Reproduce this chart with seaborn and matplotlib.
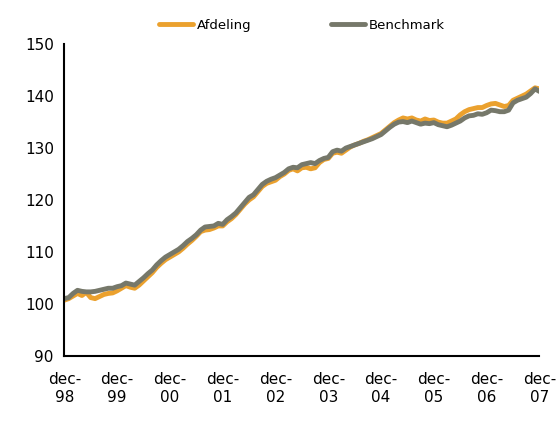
import matplotlib
matplotlib.use("Agg")
import matplotlib.pyplot as plt
import seaborn as sns
import pandas as pd
import numpy as np

benchmark = [101.0,
 101.2, 102.0, 102.6, 102.4, 102.3, 102.3, 102.4, 102.6, 102.8, 103.0, 103.0, 103.3,
 103.5, 104.0, 103.8, 103.6, 104.3, 105.0, 105.8, 106.5, 107.5, 108.3, 109.0, 109.5,
 110.0, 110.5, 111.2, 112.0, 112.6, 113.3, 114.2, 114.8, 114.9, 115.0, 115.5, 115.3,
 116.2, 116.8, 117.5, 118.5, 119.5, 120.5, 121.0, 122.0, 123.0, 123.6, 124.0, 124.3,
 124.8, 125.3, 126.0, 126.3, 126.2, 126.8, 127.0, 127.2, 127.0, 127.6, 128.0, 128.2,
 129.3, 129.6, 129.4, 130.0, 130.3, 130.6, 130.9, 131.2, 131.5, 131.8, 132.2, 132.6,
 133.3, 134.0, 134.6, 135.0, 135.1, 134.9, 135.2, 134.9, 134.6, 134.8, 134.7, 134.9,
 134.5, 134.3, 134.1, 134.4, 134.8, 135.2, 135.8, 136.2, 136.3, 136.6, 136.5, 136.8,
 137.3, 137.2, 137.0, 137.0, 137.3, 138.7, 139.2, 139.5, 139.8, 140.5, 141.4, 140.9]

afdeling = [100.7,
 101.0, 101.5, 102.0, 101.6, 102.2, 101.2, 101.0, 101.4, 101.8, 102.0, 102.1, 102.5,
 103.0, 103.5, 103.2, 103.0, 103.6, 104.4, 105.2, 106.0, 107.0, 107.8, 108.5, 109.0,
 109.5, 110.0, 110.7, 111.5, 112.2, 113.0, 113.9, 114.2, 114.3, 114.6, 115.0, 115.0,
 115.8, 116.4, 117.2, 118.2, 119.2, 120.0, 120.6, 121.6, 122.6, 123.2, 123.5, 123.8,
 124.5, 125.0, 125.7, 126.0, 125.6, 126.2, 126.3, 126.0, 126.2, 127.2, 127.8, 128.0,
 129.0, 129.2, 129.0, 129.6, 130.2, 130.6, 130.9, 131.3, 131.6, 132.0, 132.4, 132.8,
 133.5, 134.2, 134.9, 135.4, 135.8, 135.6, 135.8, 135.4, 135.2, 135.6, 135.3, 135.4,
 135.0, 134.8, 134.8, 135.2, 135.6, 136.4, 137.0, 137.4, 137.6, 137.8, 137.8, 138.2,
 138.5, 138.6, 138.3, 138.0, 138.2, 139.2, 139.6, 140.0, 140.4, 141.0, 141.6, 141.4]

tick_labels = ["dec-\n98", "dec-\n99", "dec-\n00", "dec-\n01", "dec-\n02",
               "dec-\n03", "dec-\n04", "dec-\n05", "dec-\n06", "dec-\n07"]

n = len(benchmark)
df = pd.DataFrame({"month": list(range(n)) * 2,
                   "value": afdeling + benchmark,
                   "series": ["Afdeling"] * n + ["Benchmark"] * n})

sns.set_style("white")
plt.rcParams['font.family'] = ['DejaVu Sans']
fig, ax = plt.subplots(figsize=(5.59, 4.21), dpi=100)
sns.lineplot(data=df, x="month", y="value", hue="series",
             palette={"Afdeling": "#EBA12E", "Benchmark": "#76786A"},
             linewidth=3.5, ax=ax)
ax.set_xlim(0, n - 1)
ax.set_ylim(90, 150)
ax.set_yticks(range(90, 151, 10))
ax.set_xticks(range(0, n, 12))
ax.set_xticklabels(tick_labels)
ax.set_xlabel("")
ax.set_ylabel("")
ax.tick_params(axis="both", labelsize=11, direction="out", length=4, color="black",
               width=1.2, labelcolor="black")
ax.tick_params(axis="x", pad=8)
for s in ["top", "right"]:
    ax.spines[s].set_visible(False)
for s in ["left", "bottom"]:
    ax.spines[s].set_color("black")
    ax.spines[s].set_linewidth(1.5)
leg = ax.legend(loc="upper center", bbox_to_anchor=(0.5, 1.12), ncol=2, frameon=False,
          fontsize=9.5, handlelength=2.6, handletextpad=0.3, columnspacing=6)
for t in leg.get_texts():
    t.set_color("black")
fig.subplots_adjust(left=0.115, right=0.965, top=0.895, bottom=0.155)
fig.savefig("out.png", dpi=100)
